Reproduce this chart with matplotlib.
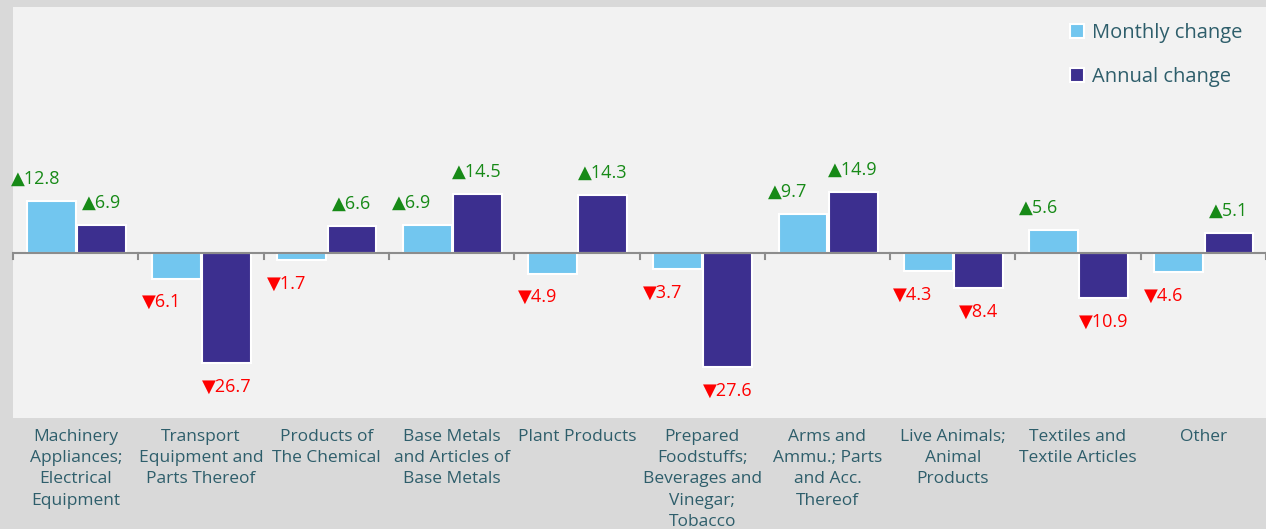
import matplotlib.pyplot as plt
import numpy as np

categories = [
    "Machinery\nAppliances;\nElectrical\nEquipment",
    "Transport\nEquipment and\nParts Thereof",
    "Products of\nThe Chemical",
    "Base Metals\nand Articles of\nBase Metals",
    "Plant Products",
    "Prepared\nFoodstuffs;\nBeverages and\nVinegar;\nTobacco",
    "Arms and\nAmmu.; Parts\nand Acc.\nThereof",
    "Live Animals;\nAnimal\nProducts",
    "Textiles and\nTextile Articles",
    "Other",
]
monthly = [12.8, -6.1, -1.7, 6.9, -4.9, -3.7, 9.7, -4.3, 5.6, -4.6]
annual = [6.9, -26.7, 6.6, 14.5, 14.3, -27.6, 14.9, -8.4, -10.9, 5.1]

plt.rcParams['font.family'] = ['Open Sans', 'DejaVu Sans']

c_month = "#72c6ef"
c_year = "#3c2f8f"
txt_col = "#2e5e6b"

fig = plt.figure(figsize=(12.66, 5.29), dpi=100, facecolor="#d9d9d9")
ax = fig.add_axes([0.0103, 0.21, 0.9897, 0.777])
ax.set_facecolor("#f2f2f2")

x = np.arange(len(categories))
w = 0.39
b1 = ax.bar(x - w / 2, monthly, w, color=c_month, edgecolor="white", linewidth=1.5,
            label="Monthly change")
b2 = ax.bar(x + w / 2 + 0.01, annual, w, color=c_year, edgecolor="white", linewidth=1.5,
            label="Annual change")

ax.set_xlim(-0.5, 9.5)
ax.set_ylim(-40, 60)

# value labels with arrows
for bars, vals, dx in [(b1, monthly, -11), (b2, annual, 0)]:
    for bar, v in zip(bars, vals):
        cx = bar.get_x() + bar.get_width() / 2
        if v >= 0:
            s, col, dy = "\u25b2" + f"{v:.1f}", "#178a17", 16
        else:
            s, col, dy = "\u25bc" + f"{abs(v):.1f}", "#ff0000", -17
        ax.annotate(s, (cx, v), xytext=(dx, dy), textcoords="offset points",
                    ha="center", va="center", fontsize=13, color=col)

# axis line at zero with ticks at category boundaries
for s in ax.spines.values():
    s.set_visible(False)
ax.axhline(0, color="#8c8c8c", lw=1.5, zorder=3)
for b in np.arange(-0.5, 10, 1):
    ax.plot([b, b], [0, -1.3], color="#8c8c8c", lw=1.5, zorder=3, clip_on=False)
ax.set_xticks([])
ax.set_yticks([])

# category labels below the plot area
for i, lab in enumerate(categories):
    ax.text(i, -0.028, lab, transform=ax.get_xaxis_transform(), ha="center", va="top",
            fontsize=12.5, color=txt_col, linespacing=1.42)

leg = ax.legend(loc="upper right", frameon=False, fontsize=14.5, handlelength=0.7,
                handleheight=0.7, handletextpad=0.4, labelspacing=1.2,
                bbox_to_anchor=(0.996, 1.005))
for t in leg.get_texts():
    t.set_color(txt_col)

fig.savefig("out.png", dpi=100, facecolor=fig.get_facecolor())
